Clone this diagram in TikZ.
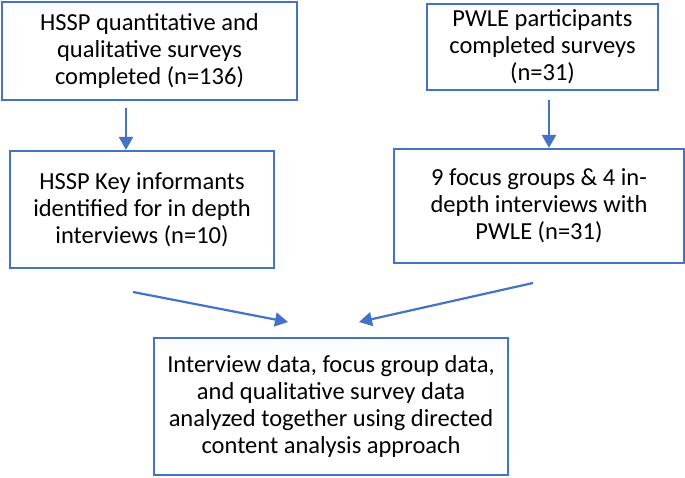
\documentclass[tikz,border=0pt]{standalone}
\usepackage{fontspec}
\setmainfont{Carlito}
\usetikzlibrary{positioning}
\usetikzlibrary{arrows.meta}
\usetikzlibrary{calc}
\definecolor{flowblue}{HTML}{4472C4}
\tikzset{%
	% Specifications for style of nodes:
	base/.style = {rectangle, draw=flowblue, line width=2.2pt,
		inner sep=0pt, align=center,
		font=\fontsize{24.5pt}{27pt}\selectfont},
	stageBox/.style = {base, fill=white},
	% connectors
	flowArrow/.style = {draw=flowblue, line width=2.2pt,
		-{Triangle[length=13pt, width=14pt]}},
}
\begin{document}
\begin{tikzpicture}[x=1pt, y=-1pt]
	\useasboundingbox (0,0) rectangle (685,478);
	
	\node (hsspSurvey) [stageBox, minimum width=295pt, minimum height=98pt] at (149.5,51) {HSSP quantitative and\\qualitative surveys\\completed (n=136)};
	\node (pwleSurvey) [stageBox, minimum width=231pt, minimum height=86pt] at (542.5,47) {PWLE participants\\completed surveys\\(n=31)};
	\node (keyInf) [stageBox, minimum width=264pt, minimum height=117pt] at (142,209.5) {HSSP Key informants\\identified for in depth\\interviews (n=10)};
	\node (focusGrp) [stageBox, minimum width=290pt, minimum height=114pt] at (539,206) {9 focus groups \& 4 in-\\depth interviews with\\PWLE (n=31)};
	\node (analysis) [stageBox, minimum width=354pt, minimum height=137pt] at (331,406.5) {Interview data, focus group data,\\and qualitative survey data\\analyzed together using directed\\content analysis approach};
	
	\coordinate (hsspOut) at (126,108);
	\coordinate (pwleOut) at (549,100);
	\draw [flowArrow] (hsspOut) -- (hsspOut |- keyInf.north);
	\draw [flowArrow] (pwleOut) -- (pwleOut |- focusGrp.north);
	
	\coordinate (keyOut) at (133,292);
	\coordinate (keyIn) at (288,322);
	\coordinate (focusOut) at (533,283);
	\coordinate (focusIn) at (359,322);
	\draw [flowArrow] (keyOut) -- (keyIn);
	\draw [flowArrow] (focusOut) -- (focusIn);
\end{tikzpicture}
\end{document}
